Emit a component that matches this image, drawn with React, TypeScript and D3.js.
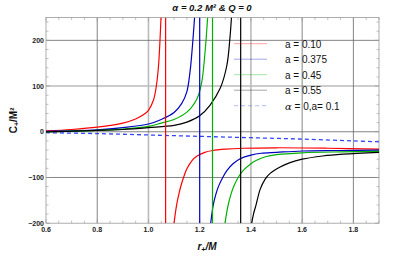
import React from 'react';
import * as d3 from 'd3';

type Pt = [number, number];

// positive branches (r, C/M^2)
const redPos: Pt[] = [[0.6, 2], [0.7, 5], [0.8, 10], [0.9, 19], [0.95, 28], [0.98, 37], [1.0, 47], [1.02, 70], [1.032, 105], [1.04, 150], [1.045, 200], [1.049, 250]];
const bluePos: Pt[] = [[0.6, 1], [0.8, 4], [0.9, 9], [1.0, 17], [1.05, 27], [1.1, 42], [1.13, 62], [1.15, 88], [1.163, 135], [1.172, 190], [1.18, 250]];
const greenPos: Pt[] = [[0.6, 0], [0.8, 3], [0.9, 6], [1.0, 12], [1.05, 19], [1.1, 27], [1.15, 43], [1.19, 73], [1.208, 109], [1.221, 175], [1.231, 250]];
const blackPos: Pt[] = [[0.6, 0], [0.8, 3], [0.9, 5], [1.0, 9], [1.1, 14], [1.15, 21], [1.2, 35], [1.24, 58], [1.28, 95], [1.306, 145], [1.318, 205], [1.324, 250]];

// negative branches
const redNeg: Pt[] = [[1.1, -200], [1.105, -178], [1.11, -160], [1.12, -133], [1.13, -112], [1.14, -95], [1.15, -81], [1.17, -63], [1.19, -53], [1.22, -45], [1.25, -41], [1.3, -38], [1.37, -36], [1.5, -35], [1.7, -36], [1.9, -38]];
const blueNeg: Pt[] = [[1.243, -200], [1.248, -178], [1.253, -160], [1.263, -137], [1.273, -120], [1.29, -100], [1.306, -85], [1.33, -70], [1.358, -59], [1.4, -51], [1.44, -47], [1.5, -45], [1.6, -42], [1.75, -41], [1.9, -40]];
const greenNeg: Pt[] = [[1.299, -200], [1.305, -178], [1.312, -158], [1.322, -137], [1.332, -121], [1.35, -100], [1.371, -84], [1.395, -72], [1.42, -63], [1.46, -54], [1.5, -50], [1.6, -46], [1.75, -44], [1.9, -43]];
const blackNeg: Pt[] = [[1.403, -200], [1.41, -180], [1.42, -160], [1.436, -126], [1.455, -104], [1.475, -91], [1.514, -77], [1.55, -68], [1.6, -60], [1.68, -53], [1.76, -49], [1.9, -45]];

const dashed: Pt[] = [[0.6, -2], [0.8, -4], [1.0, -7], [1.2, -10], [1.4, -13], [1.6, -16], [1.8, -20], [1.9, -22]];

// jumps drawn across the divergence
const jumps = [1.067, 1.2, 1.25, 1.36];

const colors = ['#ff0000', '#0000c0', '#00b000', '#000000'];
const legendLabels = ['a = 0.10', 'a = 0.375', 'a = 0.45', 'a = 0.55'];

const xTicks = [0.6, 0.8, 1.0, 1.2, 1.4, 1.6, 1.8];
const yTicks = [200, 100, 0, -100, -200];
const gridDark = { x: [0.8, 1.6, 1.8], y: [200, 0, -100] };
const gridLight = { x: [1.0, 1.4], y: [100] };

const W = 415, H = 260;
const L = 46, R = 379, T = 17.5, B = 223.2;

export default function App() {
  const x = d3.scaleLinear().domain([0.6, 1.9]).range([L, R]);
  const y = d3.scaleLinear().domain([-200, 250]).range([B, T]);
  const line = d3.line<Pt>().x(d => x(d[0])).y(d => y(d[1])).curve(d3.curveCatmullRom.alpha(0.5));

  const pos = [redPos, bluePos, greenPos, blackPos];
  const neg = [redNeg, blueNeg, greenNeg, blackNeg];

  const minorX = d3.range(0.6, 1.9001, 0.05);
  const minorY = d3.range(-200, 250.01, 20);

  const font = 'Liberation Sans, Arial, sans-serif';

  return (
    <svg width={W} height={H} style={{ position: 'absolute', left: 0, top: 0 }} fontFamily={font}>
      <rect width={W} height={H} fill="#fff" />
      <defs>
        <clipPath id="plot">
          <rect x={L} y={T} width={R - L} height={B - T} />
        </clipPath>
      </defs>

      {/* grid */}
      {gridLight.x.map(v => <line key={'glx' + v} x1={x(v)} x2={x(v)} y1={T} y2={B} stroke="#bbb" strokeWidth={1.6} />)}
      {gridLight.y.map(v => <line key={'gly' + v} x1={L} x2={R} y1={y(v)} y2={y(v)} stroke="#bbb" strokeWidth={1.6} />)}
      {gridDark.x.map(v => <line key={'gdx' + v} x1={x(v)} x2={x(v)} y1={T} y2={B} stroke="#666" strokeWidth={0.8} />)}
      {gridDark.y.map(v => <line key={'gdy' + v} x1={L} x2={R} y1={y(v)} y2={y(v)} stroke="#666" strokeWidth={0.8} />)}

      {/* frame and ticks */}
      <rect x={L} y={T} width={R - L} height={B - T} fill="none" stroke="#999" strokeWidth={0.8} />
      {minorX.map((v, i) => {
        const major = i % 4 === 0;
        const len = major ? 4 : 2.5;
        return (
          <g key={'tx' + i} stroke="#999" strokeWidth={0.6}>
            <line x1={x(v)} x2={x(v)} y1={B} y2={B - len} />
            <line x1={x(v)} x2={x(v)} y1={T} y2={T + len} />
          </g>
        );
      })}
      {minorY.map((v, i) => {
        const major = Math.round(v) % 100 === 0;
        const len = major ? 4 : 2.5;
        return (
          <g key={'ty' + i} stroke="#999" strokeWidth={0.6}>
            <line x1={L} x2={L + len} y1={y(v)} y2={y(v)} />
            <line x1={R} x2={R - len} y1={y(v)} y2={y(v)} />
          </g>
        );
      })}

      {/* curves */}
      <g clipPath="url(#plot)" fill="none" strokeWidth={1.2}>
        <path d={line(dashed) ?? ''} stroke="#3344ff" strokeWidth={1.3} strokeDasharray="4,3" />
        {pos.map((p, i) => <path key={'p' + i} d={line(p) ?? ''} stroke={colors[i]} />)}
        {neg.map((p, i) => <path key={'n' + i} d={line(p) ?? ''} stroke={colors[i]} />)}
        {jumps.map((v, i) => <line key={'j' + i} x1={x(v)} x2={x(v)} y1={T} y2={B} stroke={colors[i]} />)}
      </g>

      {/* tick labels */}
      {xTicks.map(v => (
        <text key={'xl' + v} x={x(v)} y={B + 9} fontSize={7} fontWeight="bold" textAnchor="middle" fill="#222">
          {v.toFixed(1)}
        </text>
      ))}
      {yTicks.map(v => (
        <text key={'yl' + v} x={L - 2} y={y(v) + 2.5} fontSize={7} fontWeight="bold" textAnchor="end" fill="#222">
          {v < 0 ? '\u2212' + Math.abs(v) : v}
        </text>
      ))}

      {/* legend */}
      {legendLabels.map((t, i) => (
        <g key={'lg' + i} transform={`translate(0,${43.7 + i * 15.5})`}>
          <line x1={234} x2={267} y1={0} y2={0} stroke={colors[i]} strokeOpacity={0.35} strokeWidth={1} />
          <text x={285} y={4} fontSize={10} fill="#111">{t}</text>
        </g>
      ))}
      <g transform={`translate(0,${43.7 + 4 * 15.5})`}>
        <line x1={234} x2={267} y1={0} y2={0} stroke="#3344ff" strokeOpacity={0.3} strokeWidth={1.2} strokeDasharray="4,3" />
        <text x={285} y={4} fontSize={10} fill="#111">
          <tspan fontStyle="italic" fontFamily="DejaVu Serif, serif">α</tspan> = 0,a= 0.1
        </text>
      </g>

      {/* titles */}
      <text x={212} y={11} fontSize={9.5} fontWeight="bold" fontStyle="italic" textAnchor="middle" fill="#111">
        α = 0.2 M² &amp; Q = 0
      </text>
      <text x={207} y={250} fontSize={10} fontWeight="bold" fontStyle="italic" textAnchor="middle" fill="#111">
        r<tspan fontSize={7} dy={2}>+</tspan><tspan dy={-2}>/M</tspan>
      </text>
      <text transform={`translate(17,${(T + B) / 2}) rotate(-90)`} fontSize={10} fontWeight="bold" textAnchor="middle" fill="#111">
        C<tspan fontSize={7} dy={2}>+</tspan><tspan dy={-2}>/M²</tspan>
      </text>
    </svg>
  );
}
